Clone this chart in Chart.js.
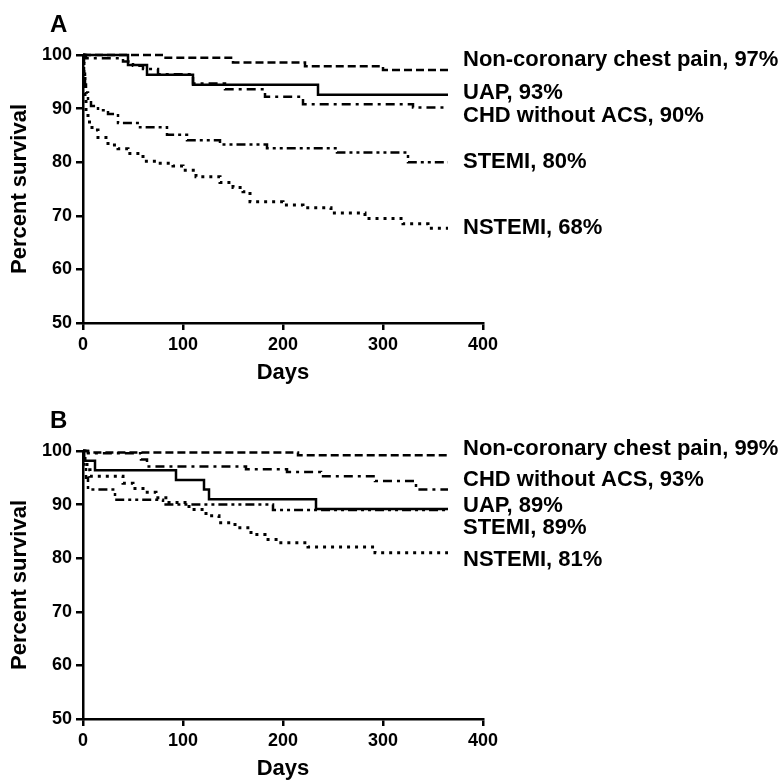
<!DOCTYPE html>
<html><head><meta charset="utf-8">
<script src="https://cdn.jsdelivr.net/npm/chart.js@4.4.0/dist/chart.umd.min.js"></script>
<style>
html,body{margin:0;padding:0;background:#fff;width:781px;height:782px;overflow:hidden}
.wrap{position:absolute;left:0;width:781px;height:386px}
</style></head><body>
<div class="wrap" style="top:0"><canvas id="cA" width="781" height="386"></canvas></div>
<div class="wrap" style="top:396px"><canvas id="cB" width="781" height="386"></canvas></div>
<script>
// ---------- Panel A data (days of event, survival % after event) ----------
const aNonCorDays = [0, 80, 150, 222, 300, 365];
const aNonCorSurv = [100, 99.5, 98.6, 97.9, 97.2, 97.2];
const aUapDays = [0, 45, 64, 110, 235, 365];
const aUapSurv = [100, 98.15, 96.3, 94.45, 92.6, 92.6];
const aChdDays = [0, 3, 40, 50, 60, 75, 110, 142, 182, 220, 330, 365];
const aChdSurv = [100, 99.4, 98.8, 98.0, 97.4, 96.4, 94.7, 93.6, 92.2, 90.8, 90.2, 90.2];
const aStemiDays = [0, 1, 2, 3, 5, 8, 15, 25, 35, 57, 84, 104, 137, 184, 254, 325, 365];
const aStemiSurv = [100, 96.5, 94.5, 93, 91.5, 90.5, 89.7, 89.0, 87.3, 86.5, 85.1, 84.1, 83.3, 82.6, 81.8, 80.0, 80.0];
const aNstemiDays = [0, 1, 2, 3, 5, 9, 15, 25, 35, 45, 60, 75, 90, 100, 113, 137, 150, 160, 167, 200, 220, 248, 282, 320, 345, 365];
const aNstemiSurv = [100, 96, 92, 89.5, 87.5, 86, 84.6, 83.2, 82.5, 81.6, 80.2, 79.8, 79.3, 78.5, 77.3, 76.2, 75.3, 74.5, 72.6, 72.0, 71.5, 70.5, 69.5, 68.5, 67.7, 67.7];

// ---------- Panel B data ----------
const bNonCorDays = [0, 5, 215, 365];
const bNonCorSurv = [100, 99.7, 99.2, 99.2];
const bChdDays = [0, 5, 58, 64, 163, 204, 238, 292, 333, 365];
const bChdSurv = [100, 99.6, 98.4, 97.1, 96.6, 96.1, 95.3, 94.4, 92.8, 92.8];
const bUapDays = [0, 1, 12, 93, 121, 126, 233, 365];
const bUapSurv = [100, 98.2, 96.4, 94.6, 92.8, 91.0, 89.2, 89.2];
const bStemiDays = [0, 1, 3, 5, 32, 80, 190, 365];
const bStemiSurv = [100, 97.5, 95, 92.8, 90.9, 90.0, 89.0, 89.0];
const bNstemiDays = [0, 2, 4, 7, 40, 50, 60, 73, 86, 106, 123, 136, 152, 168, 182, 195, 225, 292, 365];
const bNstemiSurv = [100, 98, 96.5, 95.3, 94, 93, 92.3, 91.3, 90.4, 89.1, 87.9, 86.6, 85.7, 84.4, 83.5, 82.9, 82.1, 81.0, 81.0];

// ---------- labels ----------
const aLabels = ['Non-coronary chest pain, 97%', 'UAP, 93%', 'CHD without ACS, 90%', 'STEMI, 80%', 'NSTEMI, 68%'];
const aLabelAt = [99.1, 92.9, 88.7, 80.1, 67.8];
const bLabels = ['Non-coronary chest pain, 99%', 'CHD without ACS, 93%', 'UAP, 89%', 'STEMI, 89%', 'NSTEMI, 81%'];
const bLabelAt = [100.3, 94.6, 89.8, 85.7, 79.6];
const yTicks = [50, 60, 70, 80, 90, 100];
const xTicks = [0, 100, 200, 300, 400];

const FAM = '"Liberation Sans", Arial, Helvetica, sans-serif';
const DASH = { solid: [], dashed: [8, 4], dashDot: [9, 5, 3, 5], dashDotDot: [9, 4, 3, 4, 3, 4], dotted: [3, 5] };

function pts(d, s) { return d.map((v, i) => ({ x: v, y: s[i] })); }
function ds(name, d, s, dash, w) {
  return { label: name, data: pts(d, s), borderColor: '#000', borderWidth: w || 2.5, borderDash: dash,
    borderCapStyle: 'butt', stepped: 'before', pointRadius: 0, fill: false, clip: 5, tension: 0 };
}

const endLabels = {
  id: 'endLabels',
  afterDatasetsDraw(chart, args, o) {
    const { ctx } = chart; const x = chart.scales.x, y = chart.scales.y;
    ctx.save();
    ctx.fillStyle = '#000'; ctx.textAlign = 'left'; ctx.textBaseline = 'middle';
    ctx.font = 'bold 22px ' + FAM;
    const px = x.getPixelForValue(365) + 15;
    o.labels.forEach((t, i) => ctx.fillText(t, px, y.getPixelForValue(o.at[i])));
    ctx.font = 'bold 24px ' + FAM;
    ctx.fillText(o.letter, 50, 25);
    ctx.restore();
  }
};

function makeChart(id, letter, datasets, labels, at) {
  new Chart(document.getElementById(id), {
    type: 'line',
    data: { datasets },
    options: {
      responsive: false, animation: false, devicePixelRatio: 1,
      layout: { padding: { top: 55, left: 0, right: 298, bottom: 0 } },
      plugins: { legend: { display: false }, tooltip: { enabled: false }, endLabels: { labels, at, letter } },
      scales: {
        x: {
          type: 'linear', min: 0, max: 400,
          afterBuildTicks(s) { s.ticks = xTicks.map(v => ({ value: v })); },
          ticks: { color: '#000', font: { family: FAM, size: 18, weight: 'bold' }, padding: 4, maxRotation: 0 },
          grid: { drawOnChartArea: false, drawTicks: true, tickLength: 7, color: '#000', lineWidth: 2.5 },
          border: { display: true, color: '#000', width: 2.5 },
          title: { display: true, text: 'Days', color: '#000', font: { family: FAM, size: 22, weight: 'bold' }, padding: { top: 0, bottom: 0 } },
          afterFit(s) { s.height = 63; }
        },
        y: {
          min: 50, max: 100,
          afterBuildTicks(s) { s.ticks = yTicks.map(v => ({ value: v })); },
          ticks: { color: '#000', font: { family: FAM, size: 18, weight: 'bold' }, padding: 4 },
          grid: { drawOnChartArea: false, drawTicks: true, tickLength: 7, color: '#000', lineWidth: 2.5 },
          border: { display: true, color: '#000', width: 2.5 },
          title: { display: true, text: 'Percent survival', color: '#000', font: { family: FAM, size: 22, weight: 'bold' }, padding: { top: 7, bottom: 0 } },
          afterFit(s) { s.width = 83; }
        }
      }
    },
    plugins: [endLabels]
  });
}

makeChart('cA', 'A', [
  ds('Non-coronary chest pain', aNonCorDays, aNonCorSurv, DASH.dashed),
  ds('UAP', aUapDays, aUapSurv, DASH.solid),
  ds('CHD without ACS', aChdDays, aChdSurv, DASH.dashDot),
  ds('STEMI', aStemiDays, aStemiSurv, DASH.dashDotDot),
  ds('NSTEMI', aNstemiDays, aNstemiSurv, DASH.dotted, 3)
], aLabels, aLabelAt);

makeChart('cB', 'B', [
  ds('Non-coronary chest pain', bNonCorDays, bNonCorSurv, DASH.dashed),
  ds('CHD without ACS', bChdDays, bChdSurv, DASH.dashDot),
  ds('UAP', bUapDays, bUapSurv, DASH.solid),
  ds('STEMI', bStemiDays, bStemiSurv, DASH.dashDotDot),
  ds('NSTEMI', bNstemiDays, bNstemiSurv, DASH.dotted, 3)
], bLabels, bLabelAt);
</script></body></html>
